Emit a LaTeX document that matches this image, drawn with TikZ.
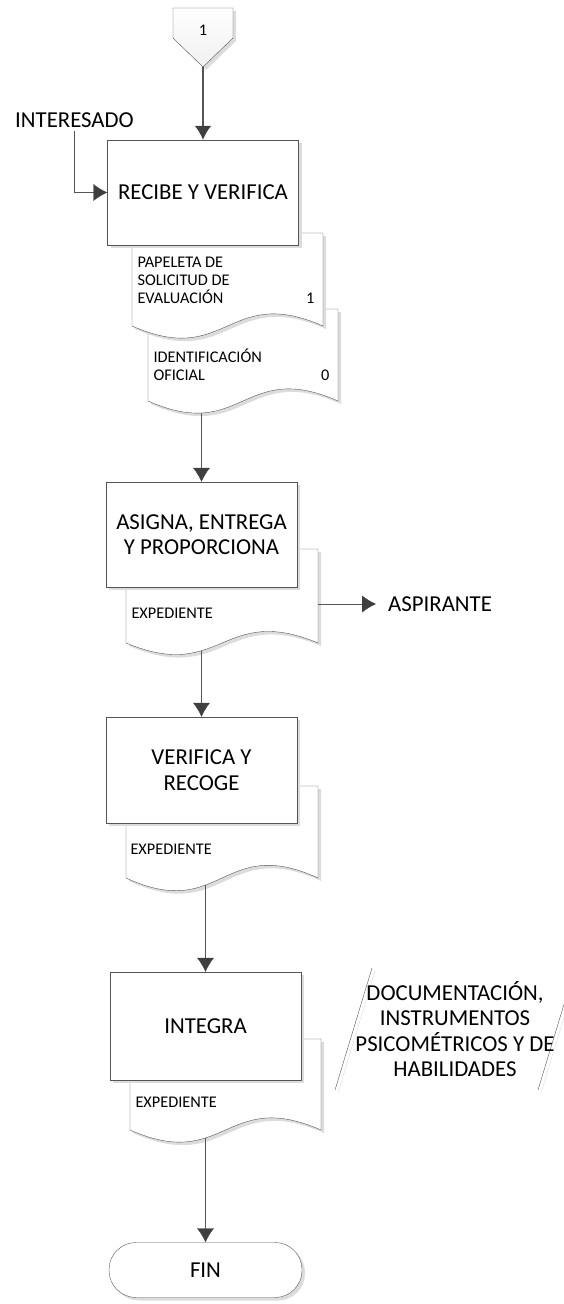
\documentclass[tikz,border=0pt]{standalone}
\usepackage{fontspec}
\setmainfont{Carlito}
\usetikzlibrary{arrows.meta,positioning,calc,shadows}
\definecolor{flowline}{HTML}{555555}
\definecolor{tiphead}{HTML}{3F3F3F}
\definecolor{shadegray}{HTML}{DCDCDC}

\begin{document}
\begin{tikzpicture}[x=1pt,y=-1pt,>={Latex[length=14pt,width=17pt,color=tiphead]},
  bigtext/.style={font=\fontsize{22.8}{25.5}\selectfont},
  smalltext/.style={font=\fontsize{16.3}{18}\selectfont},
  shade/.style={drop shadow={shadow xshift=3pt,shadow yshift=-3pt,fill=shadegray,opacity=1}},
  procbox/.style={draw=flowline,fill=white,shade,minimum width=191pt,align=center,bigtext},
  docshape/.style={draw=flowline,fill=white,shade},
  flow/.style={draw=flowline,->}]
\useasboundingbox (0,0) rectangle (564,1304);

% ends of the connectors
\coordinate (pgtip) at (203,67);
\coordinate (ident) at (201.5,413);
\coordinate (exp1) at (201.5,650.5);
\coordinate (exp2) at (205.5,885);
\coordinate (exp3) at (205.5,1138);
\coordinate (exp1r) at (318,604);

% off-page connector
\draw[flowline,top color=white,bottom color=gray!12,drop shadow={shadow xshift=3pt,shadow yshift=-3pt,fill=shadegray,opacity=1}]
  (173,8) -- (233,8) -- (233,38) -- (pgtip) -- (173,38) -- cycle;
\node[smalltext] (pg) at (203,30) {1};

% documents
\draw[docshape] (148,309) -- (148,401) .. controls (243,443) and (243,359) .. (338,401) -- (338,309) -- cycle;
\draw[docshape] (132,233) -- (132,326) .. controls (227.5,368) and (227.5,284) .. (323,326) -- (323,233) -- cycle;
\draw[docshape] (126,549) -- (126,643) .. controls (222,683) and (222,603) .. (318,643) -- (318,549) -- cycle;
\draw[docshape] (126,786) -- (126,878) .. controls (222,922) and (222,834) .. (318,878) -- (318,786) -- cycle;
\draw[docshape] (130,1039) -- (130,1130) .. controls (225.5,1172) and (225.5,1088) .. (321,1130) -- (321,1039) -- cycle;

% steps
\node[procbox,minimum height=105pt] (recibe) at (203,192.5) {RECIBE Y VERIFICA};
\node[procbox,minimum height=105pt] (asigna) at (201.5,534.5) {ASIGNA, ENTREGA\\Y PROPORCIONA};
\node[procbox,minimum height=106pt] (verifica) at (201.5,770) {VERIFICA Y\\RECOGE};
\node[procbox,minimum height=108pt] (integra) at (205.5,1026) {INTEGRA};
\node[draw=flowline,fill=white,shade,rounded corners=27pt,minimum width=193pt,minimum height=55pt,bigtext] (fin) at (205.5,1270) {FIN};

% flow lines
\draw[flow,line width=2pt] (pgtip) -- (recibe.north);
\draw[flow] (ident) -- (asigna.north);
\draw[flow] (exp1) -- (verifica.north);
\draw[flow] (exp2) -- (integra.north);
\draw[flow] (exp3) -- (fin.north);

% document texts
\node[smalltext,anchor=west,align=left] (papeleta) at (134,280) {PAPELETA DE\\SOLICITUD DE\\EVALUACIÓN};
\node[smalltext,anchor=east] (pap1) at (318,298) {1};
\node[smalltext,anchor=west,align=left] (oficial) at (150,365) {IDENTIFICACIÓN\\OFICIAL};
\node[smalltext,anchor=east] (ofi0) at (333,375) {0};
\node[smalltext,anchor=west] (expa) at (128,613) {EXPEDIENTE};
\node[smalltext,anchor=west] (expb) at (127,849) {EXPEDIENTE};
\node[smalltext,anchor=west] (expc) at (132,1102) {EXPEDIENTE};

% outside parties
\node[bigtext] (interesado) at (74.5,120) {INTERESADO};
\draw[flow] (interesado.south) |- (recibe.west);
\node[bigtext,anchor=west,inner xsep=12pt] (aspirante) at (376,604) {ASPIRANTE};
\draw[flow] (exp1r) -- (aspirante.west);

% data
\draw[shadegray] (338,1093) -- (375,971);
\draw[shadegray] (541,1093) -- (578,971);
\draw[flowline] (335,1090) -- (372,968);
\draw[flowline] (538,1090) -- (575,968);
\node[bigtext,align=center] (datos) at (455,1029) {DOCUMENTACIÓN,\\INSTRUMENTOS\\PSICOMÉTRICOS Y DE\\HABILIDADES};
\end{tikzpicture}
\end{document}
